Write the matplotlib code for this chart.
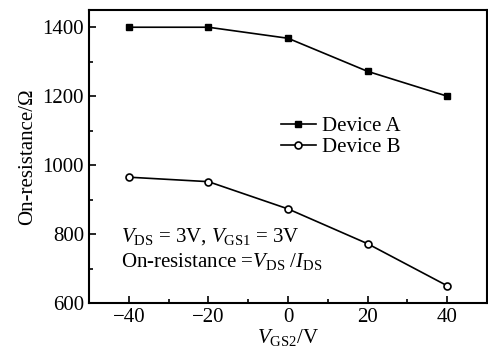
import matplotlib
matplotlib.use("Agg")
import matplotlib.pyplot as plt
from matplotlib.ticker import MultipleLocator

plt.rcParams['font.family'] = ['Liberation Serif', 'DejaVu Serif']
plt.rcParams['mathtext.fontset'] = 'custom'
plt.rcParams['mathtext.rm'] = 'Liberation Serif'
plt.rcParams['mathtext.it'] = 'Liberation Serif:italic'

# data
vgs2 = [-40, -20, 0, 20, 40]
device_a = [1400, 1400, 1368, 1272, 1200]
device_b = [965, 952, 873, 772, 650]

fig = plt.figure(figsize=(4.88, 3.49), dpi=100)
ax = fig.add_axes([89 / 488, 1 - 303 / 349, 398 / 488, 293 / 349])

ax.plot(vgs2, device_a, color='black', lw=1.2, marker='s', ms=5,
        mfc='black', mec='black', label='Device A')
ax.plot(vgs2, device_b, color='black', lw=1.2, marker='o', ms=5,
        mfc='white', mec='black', mew=1.2, label='Device B')

ax.set_xlim(-50, 50)
ax.set_ylim(600, 1450)
ax.set_xticks([-40, -20, 0, 20, 40])
ax.set_yticks([600, 800, 1000, 1200, 1400])
ax.xaxis.set_minor_locator(MultipleLocator(10))
ax.yaxis.set_minor_locator(MultipleLocator(100))
ax.tick_params(which='both', direction='in', labelsize=15, width=1.2)
ax.tick_params(which='major', length=5)
ax.tick_params(which='minor', length=3)
for s in ax.spines.values():
    s.set_linewidth(1.5)

ax.set_xlabel('$V_{\\mathrm{GS2}}$/V', fontsize=15, labelpad=0)
ax.set_ylabel('On-resistance/Ω', fontsize=15, labelpad=4)

ax.legend(loc='upper left', bbox_to_anchor=(0.445, 0.685), frameon=False,
          fontsize=15, handlelength=1.7, handletextpad=0.3, labelspacing=0.05,
          borderpad=0.2)

ax.text(-42, 778, '$V_{\\mathrm{DS}}$ = 3V, $V_{\\mathrm{GS1}}$ = 3V', fontsize=15)
ax.text(-42, 703, 'On-resistance =$V_{\\mathrm{DS}}$ /$I_{\\mathrm{DS}}$', fontsize=15)

fig.savefig('out.png', dpi=100)
